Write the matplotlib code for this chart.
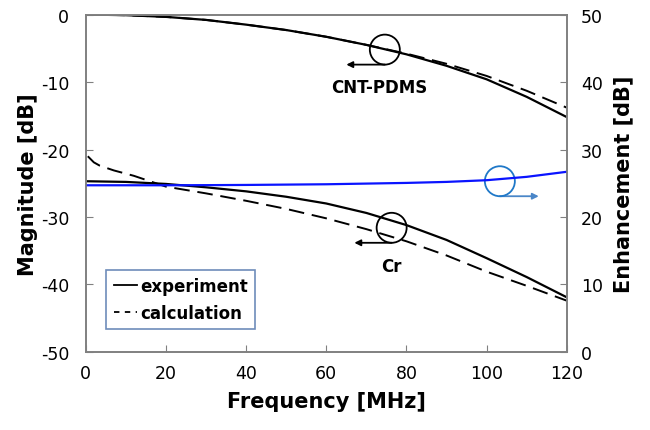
import matplotlib.pyplot as plt
from matplotlib.patches import Ellipse
from matplotlib.lines import Line2D
import numpy as np

# Frequency points [MHz]
freq = [0, 5, 10, 20, 30, 40, 50, 60, 70, 80, 90, 100, 110, 120]

# CNT-PDMS magnitude [dB]
cnt_exp = [0.0, -0.05, -0.1, -0.35, -0.8, -1.5, -2.3, -3.3, -4.5, -5.9, -7.6, -9.6, -12.2, -15.2]
cnt_calc = [0.0, -0.05, -0.1, -0.35, -0.8, -1.5, -2.3, -3.3, -4.5, -5.8, -7.3, -9.1, -11.3, -13.8]

# Cr magnitude [dB]
cr_freq_calc = [0.5, 2, 3.5, 7, 12, 20, 30, 40, 50, 60, 70, 80, 90, 100, 110, 120]
cr_calc = [-21.0, -21.9, -22.4, -23.1, -23.9, -25.5, -26.5, -27.6, -28.8, -30.2, -31.8, -33.6, -35.7, -38.1, -40.2, -42.4]
cr_exp = [-24.7, -24.75, -24.8, -25.1, -25.6, -26.2, -27.0, -28.0, -29.4, -31.2, -33.4, -36.1, -38.9, -41.9]

# Enhancement [dB] (right axis)
enh = [24.7, 24.7, 24.7, 24.7, 24.72, 24.75, 24.8, 24.85, 24.95, 25.05, 25.2, 25.45, 25.95, 26.7]

plt.rcParams['font.family'] = ['DejaVu Sans']
plt.rcParams['axes.unicode_minus'] = False
fig = plt.figure(figsize=(6.5, 4.31), dpi=100)
ax = fig.add_axes([0.132, 0.181, 0.740, 0.783])
ax2 = ax.twinx()

ax.plot(freq, cnt_exp, color='black', lw=1.6)
ax.plot(freq, cnt_calc, color='black', lw=1.4, dashes=(8, 4))
ax.plot(freq, cr_exp, color='black', lw=1.6)
ax.plot(cr_freq_calc, cr_calc, color='black', lw=1.4, dashes=(8, 4))
ax2.plot(freq, enh, color='#0a14ff', lw=1.6)

ax.set_xlim(0, 120)
ax.set_ylim(-50, 0)
ax2.set_ylim(0, 50)
ax.set_xticks(np.arange(0, 121, 20))
ax.set_yticks(np.arange(-50, 1, 10))
ax2.set_yticks(np.arange(0, 51, 10))

for a in (ax, ax2):
    for s in a.spines.values():
        s.set_color('#808080')
        s.set_linewidth(1.2)
    a.tick_params(direction='in', length=5, color='#808080', labelsize=12.5)
ax.tick_params(axis='y', pad=12)
ax.tick_params(axis='x', pad=9)
ax2.tick_params(axis='y', pad=10)

ax.set_xlabel('Frequency [MHz]', fontsize=15, fontweight='bold', labelpad=6)
ax.set_ylabel('Magnitude [dB]', fontsize=15, fontweight='bold', labelpad=2)
ax2.set_ylabel('Enhancement [dB]', fontsize=15, fontweight='bold', labelpad=8)

# circles and arrows marking which axis each curve uses
def mark(cx, cy, x_end, color, arrow_color):
    w = 30 / 4.008
    h = 30 / 6.75
    ax.add_patch(Ellipse((cx, cy), w, h, fill=False, ec=color, lw=1.3, zorder=5))
    ax.annotate('', xy=(x_end, cy - h / 2), xytext=(cx, cy - h / 2),
                arrowprops=dict(arrowstyle='-|>', color=arrow_color, lw=1.3,
                                mutation_scale=9, shrinkA=0, shrinkB=0))

mark(74.6, -5.2, 65, 'black', 'black')
mark(76.3, -31.6, 67, 'black', 'black')
mark(103.3, -24.7, 113, '#1f78c8', '#4a86c8')

ax.text(73.1, -10.7, 'CNT-PDMS', ha='center', va='center', fontsize=12, fontweight='bold')
ax.text(76.3, -37.2, 'Cr', ha='center', va='center', fontsize=12, fontweight='bold')

# legend
handles = [Line2D([], [], color='black', lw=1.3),
           Line2D([], [], color='black', lw=1.3, dashes=(3, 3))]
leg = ax.legend(handles, ['experiment', 'calculation'], loc='lower left',
                bbox_to_anchor=(0.042, 0.068), borderaxespad=0, fancybox=False,
                handlelength=1.4, handletextpad=0.2, borderpad=0.45,
                labelspacing=0.5, prop={'weight': 'bold', 'size': 12})
leg.get_frame().set_edgecolor('#4a70a8')
leg.get_frame().set_linewidth(1.2)

fig.savefig('out.png', dpi=100)
